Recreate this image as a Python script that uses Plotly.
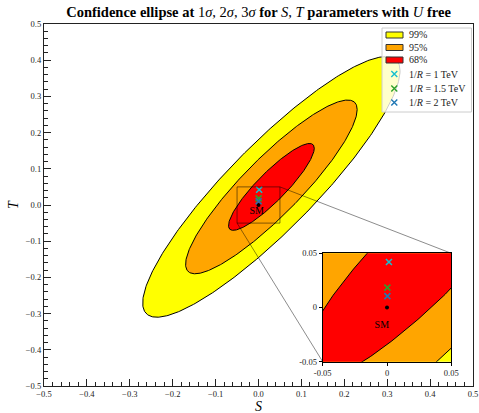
import numpy as np
import plotly.graph_objects as go

# ---- data ----
center_S = 0.03
center_T = 0.05
sigma_S = 0.10
sigma_T = 0.12
rho_ST = 0.89
levels_sigma = [3, 2, 1]
level_labels = ["99%", "95%", "68%"]
level_colors = ["#ffff00", "#ffa500", "#ff0000"]

point_labels = ["1/<i>R</i> = 1 TeV", "1/<i>R</i> = 1.5 TeV", "1/<i>R</i> = 2 TeV"]
point_S = [0.0015, 0.0003, 0.0003]
point_T = [0.042, 0.0183, 0.0105]
point_colors = ["#17becf", "#2ca02c", "#1f77b4"]

sm_S = [0.0]
sm_T = [0.0]

main_ticks = [-0.5, -0.4, -0.3, -0.2, -0.1, 0.0, 0.1, 0.2, 0.3, 0.4, 0.5]
main_ticklabels = ["\u22120.5", "\u22120.4", "\u22120.3", "\u22120.2", "\u22120.1", "0.0",
                   "0.1", "0.2", "0.3", "0.4", "0.5"]
inset_ticks = [-0.05, 0.0, 0.05]
inset_ticklabels = ["-0.05", "0", "0.05"]
zoom_box = [-0.05, 0.05]

FONT = "Liberation Serif"
W, H = 479, 413
ML, MR, MT, MB = 44, 6, 24, 27
PW, PH = W - ML - MR, H - MT - MB


def px2paper(px, py):
    return (px - ML) / PW, (H - MB - py) / PH


def ellipse(k, n=400):
    th = np.linspace(0, 2 * np.pi, n)
    x = center_S + k * sigma_S * np.cos(th)
    y = center_T + k * sigma_T * (rho_ST * np.cos(th) + np.sqrt(1 - rho_ST ** 2) * np.sin(th))
    return x, y


fig = go.Figure()

for axes in [("x", "y"), ("x2", "y2")]:
    for k, lab, col in zip(levels_sigma, level_labels, level_colors):
        ex, ey = ellipse(k)
        fig.add_trace(go.Scatter(x=ex, y=ey, mode="lines", fill="toself", fillcolor=col,
                                 line=dict(color="black", width=1), name=lab,
                                 xaxis=axes[0], yaxis=axes[1], showlegend=False,
                                 hoverinfo="skip"))
    fig.add_trace(go.Scatter(x=sm_S, y=sm_T, mode="markers",
                             marker=dict(color="black", size=4), xaxis=axes[0], yaxis=axes[1],
                             showlegend=False))
    fig.add_trace(go.Scatter(x=[sm_S[0] - 0.004], y=[sm_T[0] - 0.017], mode="text", text=["SM"],
                             textfont=dict(family=FONT, size=10, color="black"),
                             xaxis=axes[0], yaxis=axes[1], showlegend=False))
    for s, t, c, lab in zip(point_S, point_T, point_colors, point_labels):
        fig.add_trace(go.Scatter(x=[s], y=[t], mode="markers", name=lab,
                                 marker=dict(symbol="x-thin", size=6, line=dict(color=c, width=1.6)),
                                 xaxis=axes[0], yaxis=axes[1], showlegend=False))

# inset domain (pixels of the reference)
ix0, iy1 = px2paper(322.7, 253.3)
ix1, iy0 = px2paper(451.3, 361.7)

axis_common = dict(showgrid=False, zeroline=False, showline=True, mirror=True,
                   linecolor="#222", linewidth=1.3, ticks="inside", ticklen=7,
                   tickwidth=1, tickcolor="#222", automargin=False,
                   tickfont=dict(family=FONT, size=8.5, color="#222"),
                   tickmode="array", tickvals=main_ticks, ticktext=main_ticklabels,
                   minor=dict(tickmode="linear", tick0=0, dtick=0.02, ticks="inside",
                              ticklen=3.5, tickcolor="#222", tickwidth=1),
                   range=[-0.5, 0.5], domain=[0, 1])

inset_common = dict(showgrid=False, zeroline=False, showline=True, mirror=True,
                    linecolor="black", linewidth=1, ticks="outside", ticklen=3,
                    tickcolor="black", tickfont=dict(family=FONT, size=8.5, color="#222"),
                    tickmode="array", tickvals=inset_ticks, ticktext=inset_ticklabels,
                    range=zoom_box, automargin=False)

shapes = []
# zoom indicator
shapes.append(dict(type="rect", xref="x", yref="y", x0=zoom_box[0], x1=zoom_box[1],
                   y0=zoom_box[0], y1=zoom_box[1], line=dict(color="rgba(0,0,0,0.5)", width=1)))
def d2p(v):
    return (v + 0.5) / 1.0
shapes.append(dict(type="line", xref="paper", yref="paper", x0=d2p(zoom_box[1]), y0=d2p(zoom_box[1]),
                   x1=ix1, y1=iy1, line=dict(color="rgba(0,0,0,0.45)", width=1)))
shapes.append(dict(type="line", xref="paper", yref="paper", x0=d2p(zoom_box[0]), y0=d2p(zoom_box[0]),
                   x1=ix0, y1=iy0, line=dict(color="rgba(0,0,0,0.45)", width=1)))

# manual legend
lx0, ly1 = px2paper(382, 28)
lx1, ly0 = px2paper(471.5, 112)
shapes.append(dict(type="rect", xref="paper", yref="paper", x0=lx0, x1=lx1, y0=ly0, y1=ly1,
                   fillcolor="rgba(255,255,255,0.8)", line=dict(color="#cccccc", width=1)))
annotations = []
row_y = [35, 47.5, 60, 74, 88.5, 102.5]
for i, (lab, col) in enumerate(zip(level_labels, level_colors)):
    px0, py0 = px2paper(386, row_y[i] - 3)
    px1, py1 = px2paper(403, row_y[i] + 3)
    shapes.append(dict(type="rect", xref="paper", yref="paper", x0=px0, x1=px1, y0=py1, y1=py0,
                       fillcolor=col, line=dict(color="#333", width=1)))
for j, (lab, col) in enumerate(zip(point_labels, point_colors)):
    cy = row_y[3 + j]
    a = px2paper(391.3, cy - 3)
    b = px2paper(397.3, cy + 3)
    c = px2paper(391.3, cy + 3)
    d = px2paper(397.3, cy - 3)
    shapes.append(dict(type="path", xref="paper", yref="paper",
                       path=f"M {a[0]},{a[1]} L {b[0]},{b[1]} M {c[0]},{c[1]} L {d[0]},{d[1]}",
                       line=dict(color=col, width=1.4)))
all_labels = level_labels + point_labels
for i, lab in enumerate(all_labels):
    tx, ty = px2paper(407, row_y[i])
    annotations.append(dict(x=tx, y=ty, xref="paper", yref="paper", text=lab, showarrow=False,
                            xanchor="left", yanchor="middle",
                            font=dict(family=FONT, size=10, color="#222")))

# axis titles placed explicitly
sx, sy = px2paper(258.5, 406)
annotations.append(dict(x=sx, y=sy, xref="paper", yref="paper", text="<i>S</i>", showarrow=False,
                        xanchor="center", yanchor="middle",
                        font=dict(family=FONT, size=14, color="black")))
tx_, ty_ = px2paper(13, 205)
annotations.append(dict(x=tx_, y=ty_, xref="paper", yref="paper", text="<i>T</i>", showarrow=False,
                        xanchor="center", yanchor="middle", textangle=-90,
                        font=dict(family=FONT, size=14, color="black")))

title = ("<b>Confidence ellipse at </b>1<i>\u03c3</i>, 2<i>\u03c3</i>, 3<i>\u03c3</i>"
         "<b> for </b><i>S</i>, <i>T</i><b> parameters with </b><i>U</i><b> free</b>")

fig.update_layout(
    width=W, height=H,
    margin=dict(l=ML, r=MR, t=MT, b=MB, autoexpand=False),
    paper_bgcolor="white", plot_bgcolor="white",
    title=dict(text=title, x=0.5, xref="paper", y=1 - 12 / H, yref="container",
               yanchor="middle", font=dict(family=FONT, size=14.5, color="black")),
    xaxis=dict(**axis_common),
    yaxis=dict(**axis_common),
    xaxis2=dict(**inset_common, domain=[ix0, ix1], anchor="y2"),
    yaxis2=dict(**inset_common, domain=[iy0, iy1], anchor="x2"),
    shapes=shapes,
    annotations=annotations,
    showlegend=False,
)

fig.write_html("out.html", config={"displayModeBar": False},
               post_script="document.body.style.margin='0';document.body.style.padding='0';")
